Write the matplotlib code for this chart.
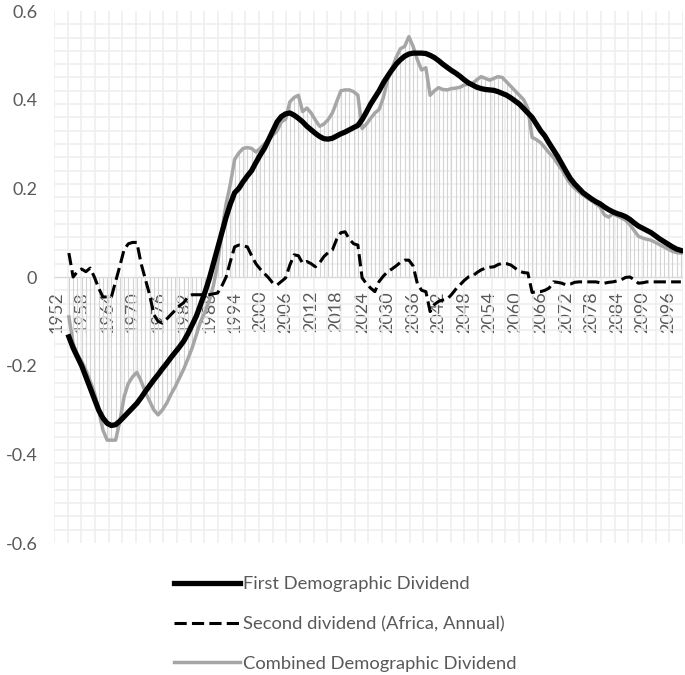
import numpy as np
import matplotlib.pyplot as plt

# annual values, 1955-2099
years = np.arange(1955, 2100)

first_dividend = [
    -0.135, -0.16, -0.18, -0.20, -0.225, -0.25, -0.275, -0.30, -0.318, -0.33,
    -0.335, -0.333, -0.325, -0.315, -0.305, -0.295, -0.285, -0.272, -0.258, -0.245,
    -0.232, -0.22, -0.207, -0.195, -0.182, -0.17, -0.158, -0.145, -0.128, -0.108,
    -0.088, -0.062, -0.035, -0.005, 0.03, 0.065, 0.10, 0.135, 0.165, 0.19,
    0.20, 0.215, 0.228, 0.24, 0.258, 0.275, 0.29, 0.31, 0.33, 0.35,
    0.362, 0.368, 0.37, 0.365, 0.358, 0.35, 0.34, 0.332, 0.324, 0.317,
    0.312, 0.311, 0.313, 0.318, 0.323, 0.327, 0.332, 0.337, 0.342, 0.355,
    0.372, 0.39, 0.405, 0.42, 0.438, 0.453, 0.467, 0.48, 0.49, 0.498,
    0.503, 0.505, 0.505, 0.505, 0.504, 0.50, 0.495, 0.488, 0.48, 0.473,
    0.466, 0.46, 0.453, 0.445, 0.438, 0.433, 0.428, 0.425, 0.423, 0.422,
    0.421, 0.418, 0.414, 0.41, 0.404, 0.397, 0.39, 0.38, 0.37, 0.36,
    0.345, 0.33, 0.318, 0.302, 0.287, 0.272, 0.255, 0.238, 0.222, 0.21,
    0.20, 0.19, 0.183, 0.176, 0.17, 0.165, 0.158, 0.152, 0.147, 0.143,
    0.14, 0.136, 0.13, 0.122, 0.115, 0.11, 0.105, 0.10, 0.093, 0.086,
    0.08, 0.074, 0.068, 0.063, 0.06,
]

second_dividend = [
    0.054, 0.0, 0.012, 0.018, 0.012, 0.02, 0.0, -0.025, -0.045, -0.045,
    -0.045, -0.01, 0.025, 0.062, 0.075, 0.078, 0.078, 0.03, -0.005, -0.04,
    -0.085, -0.10, -0.104, -0.095, -0.085, -0.075, -0.065, -0.058, -0.045, -0.04,
    -0.04, -0.04, -0.04, -0.04, -0.038, -0.036, -0.02, 0.0, 0.035, 0.068,
    0.072, 0.07, 0.068, 0.048, 0.03, 0.018, 0.008, -0.002, -0.014, -0.018,
    -0.01, -0.002, 0.027, 0.05, 0.048, 0.031, 0.035, 0.03, 0.023, 0.032,
    0.046, 0.055, 0.061, 0.085, 0.10, 0.102, 0.085, 0.075, 0.072, -0.002,
    -0.015, -0.025, -0.033, -0.01, 0.002, 0.012, 0.018, 0.025, 0.033, 0.038,
    0.038, 0.025, -0.015, -0.03, -0.033, -0.078, -0.062, -0.055, -0.052, -0.05,
    -0.04, -0.028, -0.018, -0.008, 0.0, 0.002, 0.01, 0.016, 0.02, 0.022,
    0.023, 0.028, 0.031, 0.03, 0.027, 0.02, 0.013, 0.01, 0.009, -0.035,
    -0.033, -0.033, -0.03, -0.025, -0.011, -0.012, -0.014, -0.018, -0.016, -0.012,
    -0.011, -0.011, -0.011, -0.011, -0.011, -0.013, -0.014, -0.012, -0.011, -0.009,
    -0.006, -0.001, 0.0, -0.006, -0.014, -0.013, -0.011, -0.011, -0.011, -0.011,
    -0.011, -0.011, -0.011, -0.011, -0.011,
]

combined_dividend = [
    -0.09, -0.15, -0.175, -0.19, -0.21, -0.235, -0.26, -0.30, -0.345, -0.368,
    -0.368, -0.368, -0.325, -0.27, -0.24, -0.225, -0.215, -0.235, -0.26, -0.28,
    -0.30, -0.311, -0.30, -0.285, -0.265, -0.248, -0.228, -0.208, -0.185, -0.16,
    -0.13, -0.10, -0.08, -0.055, -0.02, 0.03, 0.105, 0.165, 0.21, 0.265,
    0.28, 0.29, 0.292, 0.29, 0.282, 0.29, 0.30, 0.31, 0.32, 0.33,
    0.35, 0.356, 0.395, 0.405, 0.41, 0.373, 0.381, 0.37, 0.354, 0.34,
    0.345, 0.355, 0.37, 0.395, 0.42, 0.422, 0.422, 0.418, 0.41, 0.335,
    0.345, 0.358, 0.37, 0.378, 0.405, 0.445, 0.47, 0.495, 0.515, 0.52,
    0.542, 0.52, 0.49, 0.467, 0.472, 0.41, 0.42, 0.427, 0.423, 0.422,
    0.425, 0.426, 0.428, 0.433, 0.435, 0.437, 0.445, 0.452, 0.448, 0.444,
    0.448, 0.452, 0.45, 0.44, 0.43, 0.42, 0.41, 0.40, 0.38, 0.315,
    0.31, 0.303, 0.292, 0.28, 0.27, 0.255, 0.242, 0.225, 0.21, 0.20,
    0.192, 0.185, 0.178, 0.172, 0.165, 0.158, 0.14, 0.135, 0.143, 0.138,
    0.133, 0.128, 0.118, 0.105, 0.092, 0.088, 0.085, 0.083, 0.078, 0.073,
    0.068, 0.063, 0.058, 0.055, 0.054,
]

tick_years = np.arange(1952, 2100, 6)
y_ticks = [-0.6, -0.4, -0.2, 0, 0.2, 0.4, 0.6]
y_labels = ["-0.6", "-0.4", "-0.2", "0", "0.2", "0.4", "0.6"]

plt.rcParams['font.family'] = ['Lato', 'DejaVu Sans']
text_col = "#595959"

fig = plt.figure(figsize=(6.85, 6.75), dpi=100)
ax = fig.add_axes([54 / 685, 1 - 543 / 675, 629 / 685, 532 / 675])

x0, x1 = 1951.5, 2099.5
ax.set_xlim(x0, x1)
ax.set_ylim(-0.6, 0.6)

# background grid
ax.set_xticks(np.linspace(x0, x1, 47), minor=True)
ax.set_yticks(np.linspace(-0.6, 0.6, 41), minor=True)
ax.grid(which="minor", color="#eeeeee", linewidth=1.1)
ax.tick_params(which="minor", length=0)
ax.set_axisbelow(True)

# drop lines from zero to combined dividend
ax.vlines(years, 0, combined_dividend, color="#d4d4d4", linewidth=0.8, zorder=1)
ax.axhline(0, color="#d9d9d9", linewidth=1, zorder=1)

ax.plot(years, first_dividend, color="black", linewidth=3.8,
        label="First Demographic Dividend", zorder=3)
ax.plot(years, second_dividend, color="black", linewidth=2.2,
        linestyle=(0, (4, 1.7)), label="Second dividend (Africa, Annual)", zorder=4)
ax.plot(years, combined_dividend, color="#a6a6a6", linewidth=2.5,
        label="Combined Demographic Dividend", zorder=2)

for s in ax.spines.values():
    s.set_visible(False)
ax.spines["bottom"].set_position(("data", 0))

ax.set_xticks(tick_years)
ax.set_xticklabels([str(t) for t in tick_years], rotation=90, color=text_col, fontsize=13)
ax.set_yticks(y_ticks)
ax.set_yticklabels(y_labels, color=text_col, fontsize=13)
ax.tick_params(which="major", length=0)
ax.tick_params(axis="x", pad=10)
ax.tick_params(axis="y", pad=12)

handles, labels = ax.get_legend_handles_labels()
leg = fig.legend(handles, labels, loc="upper left",
                 bbox_to_anchor=(174 / 685, 1 - 576 / 675),
                 frameon=False, fontsize=13.2, handlelength=3.6,
                 handletextpad=0.15, labelspacing=1.3,
                 borderpad=0, borderaxespad=0)
for t in leg.get_texts():
    t.set_color(text_col)

fig.savefig("out.png", dpi=100)
